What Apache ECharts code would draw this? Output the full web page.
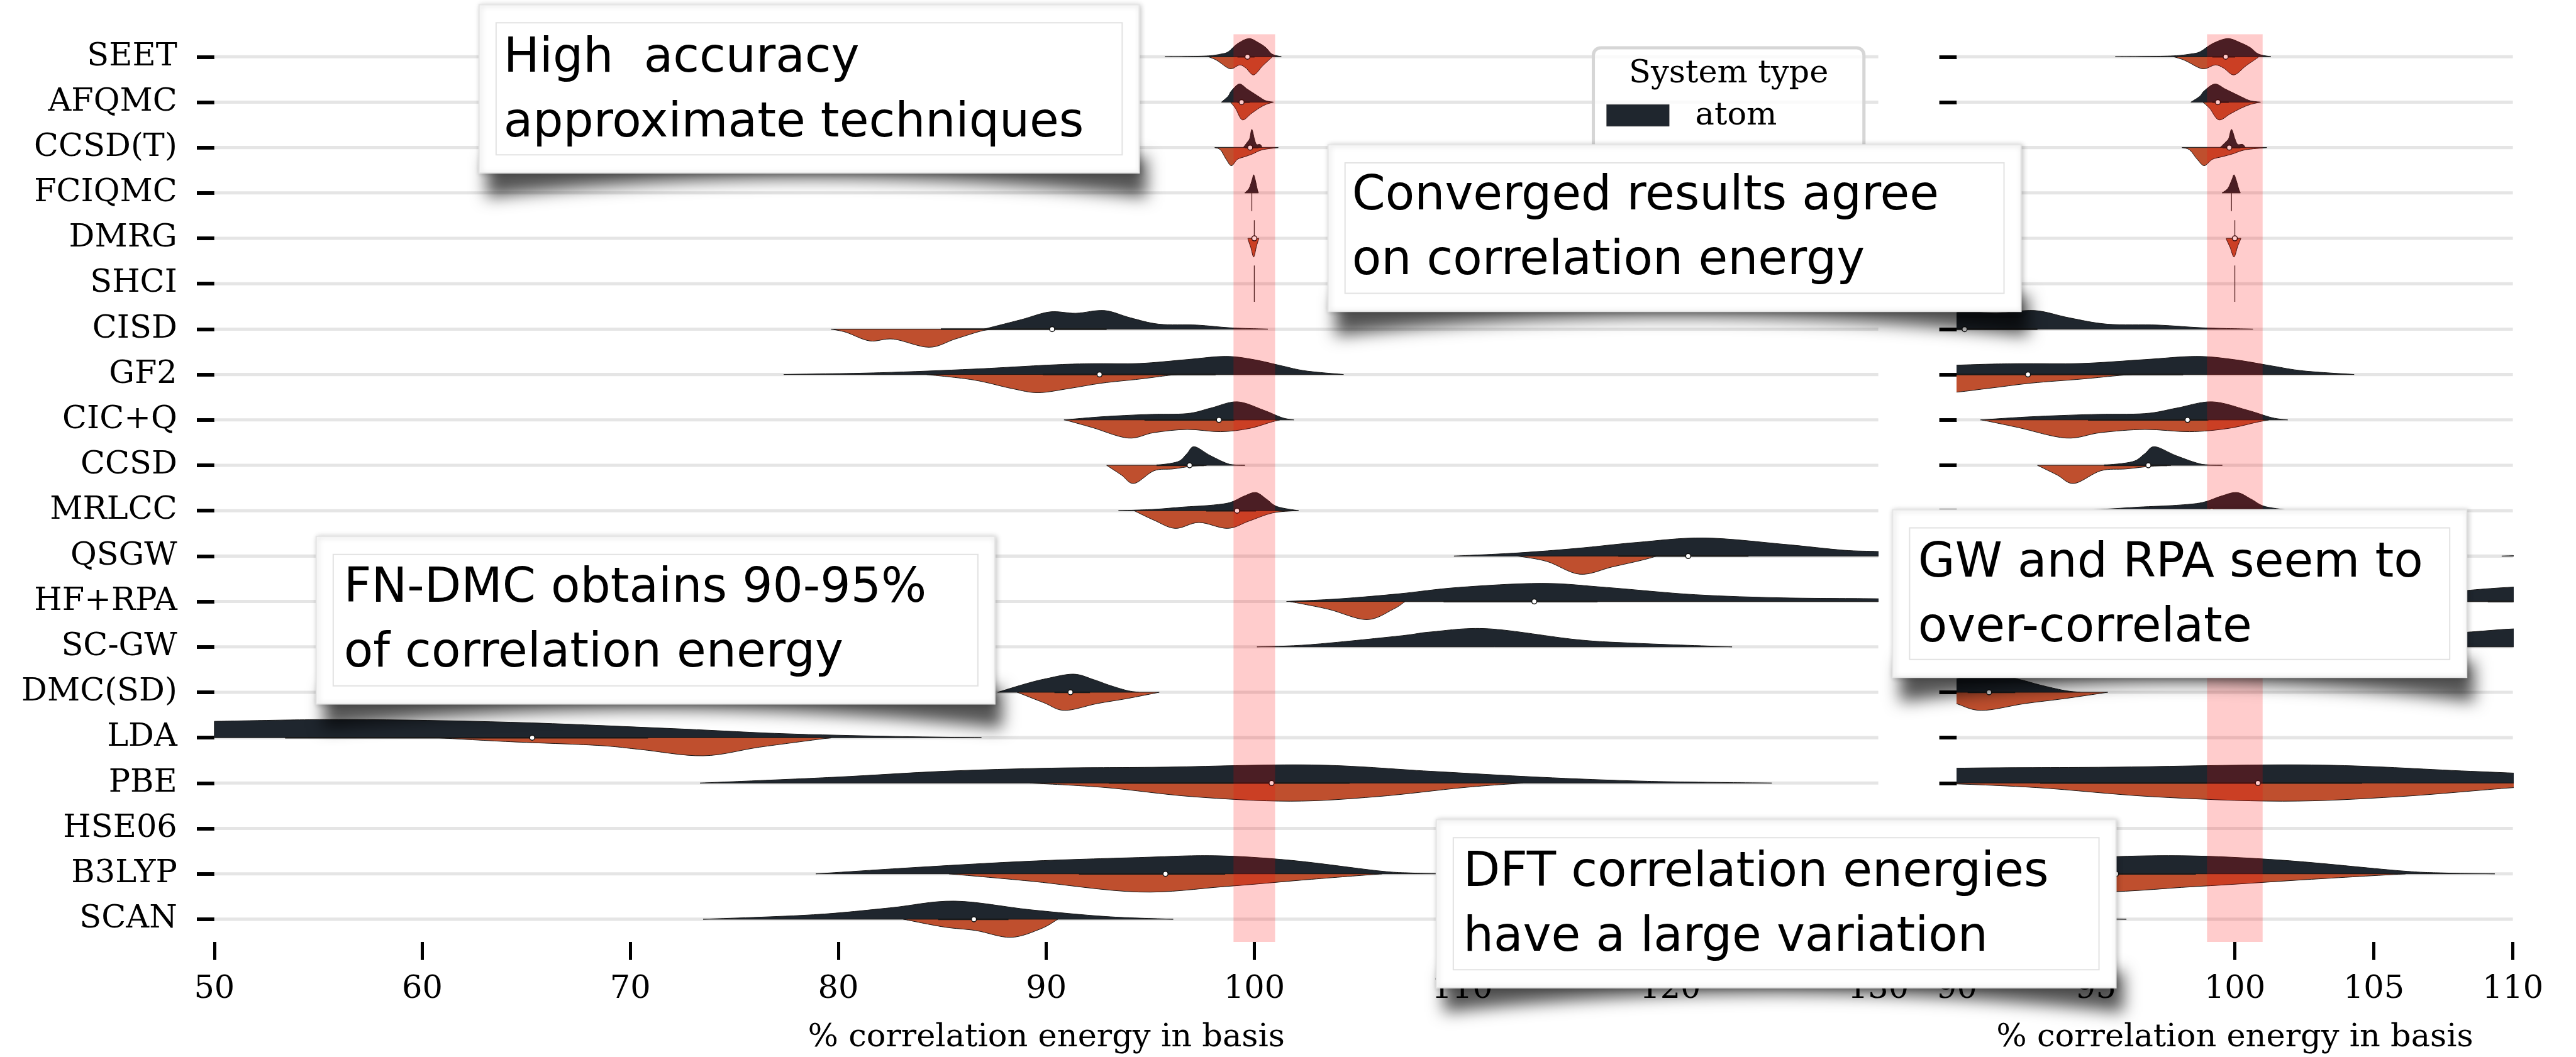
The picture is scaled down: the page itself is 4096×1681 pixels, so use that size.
<!DOCTYPE html>
<html><head><meta charset="utf-8">
<script src="https://cdn.jsdelivr.net/npm/echarts@6/dist/echarts.min.js"></script>
<style>html,body{margin:0;padding:0;background:#fff;overflow:hidden}#c{width:4096px;height:1681px}</style>
</head><body><div id="c"></div>
<script>
// ---------------- data ----------------
const methods = ['SEET','AFQMC','CCSD(T)','FCIQMC','DMRG','SHCI','CISD','GF2','CIC+Q','CCSD','MRLCC','QSGW','HF+RPA','SC-GW','DMC(SD)','LDA','PBE','HSE06','B3LYP','SCAN'];

// half-violin outlines: [% correlation energy, half-width as fraction of row spacing]
const atomDensity = [
  [[95.7,0],[96.8,0.006],[97.8,0.02],[98.4,0.06],[98.75,0.11],[99.2,0.29],[99.74,0.40],[100.2,0.31],[100.56,0.2],[100.85,0.06],[101.3,0]],
  [[98.42,0],[98.74,0.13],[98.9,0.25],[99.28,0.40],[99.65,0.29],[99.92,0.21],[100.29,0.10],[100.56,0.03],[100.92,0]],
  [[99.47,0],[99.65,0.11],[99.78,0.2],[99.88,0.40],[100.0,0.2],[100.1,0.07],[100.28,0.07],[100.38,0]],
  [[99.54,0],[99.75,0.1],[99.9,0.3],[99.97,0.40],[100.05,0.28],[100.15,0.07],[100.2,0]],
  [[100.0,0.40]],
  [[100.0,0.40]],
  [[87.0,0],[88.8,0.21],[90.17,0.38],[91.42,0.35],[92.79,0.41],[94.04,0.25],[95.41,0.11],[97.23,0.09],[98.83,0.03],[100.65,0]],
  [[77.37,0],[81.97,0.04],[86.5,0.12],[90.17,0.21],[92.2,0.24],[94.5,0.245],[96.77,0.33],[98.6,0.40],[99.96,0.33],[101.33,0.19],[102.47,0.08],[104.29,0]],
  [[90.85,0],[92.67,0.07],[94.84,0.12],[96.77,0.14],[97.9,0.26],[99.17,0.40],[100.42,0.22],[101.33,0.05],[101.9,0]],
  [[95.3,0],[96.32,0.08],[96.75,0.25],[97.12,0.41],[97.9,0.21],[98.83,0.02],[99.55,0]],
  [[93.47,0],[95.18,0.03],[96.55,0.08],[97.9,0.12],[98.83,0.18],[99.5,0.32],[100.08,0.40],[100.6,0.25],[101.1,0.09],[102.13,0]],
  [[109.6,0],[112.66,0.07],[115.5,0.17],[118.36,0.30],[121.63,0.40],[125.47,0.26],[128.32,0.13],[130.03,0.10],[132,0.04],[133.5,0]],
  [[101.55,0],[104.12,0.06],[106.96,0.17],[109.81,0.31],[113.8,0.40],[116.93,0.31],[121.2,0.15],[125.47,0.08],[130.03,0.06],[133,0.02],[135,0]],
  [[100.13,0],[102.7,0.05],[106.96,0.24],[108.5,0.33],[111.24,0.40],[115.5,0.16],[118.36,0.08],[122.97,0]],
  [[87.66,0],[89.03,0.19],[90.0,0.30],[91.3,0.40],[92.27,0.28],[93.0,0.16],[93.87,0.04],[94.44,0]],
  [[50,0.36],[56.43,0.40],[64.24,0.34],[72.05,0.20],[77.25,0.09],[82.46,0.03],[86.88,0]],
  [[73.35,0],[79.85,0.13],[85.06,0.26],[90.27,0.33],[95.47,0.35],[102.76,0.40],[108.48,0.26],[113.69,0.13],[118.9,0.04],[124.88,0]],
  [],
  [[78.92,0],[84.02,0.15],[89.22,0.28],[94.43,0.36],[98.07,0.40],[101.72,0.30],[105.9,0.07],[107.5,0.02],[109.35,0]],
  [[73.5,0],[78.81,0.10],[82.46,0.25],[85.58,0.40],[89.22,0.21],[92.87,0.06],[96.1,0]]
];
const moleculeDensity = [
  [[97.8,0],[98.2,0.08],[98.7,0.24],[98.95,0.26],[99.3,0.18],[99.6,0.25],[99.97,0.40],[100.4,0.2],[100.8,0.03],[100.85,0]],
  [[98.85,0],[99.1,0.14],[99.42,0.39],[99.83,0.26],[100.2,0.14],[100.56,0.05],[100.92,0]],
  [[98.1,0],[98.37,0.05],[98.65,0.26],[98.9,0.40],[99.19,0.26],[99.56,0.2],[99.92,0.14],[100.38,0.05],[101.15,0]],
  [[99.88,0.40]],
  [[99.69,0],[99.71,0.04],[99.83,0.2],[99.97,0.41],[100.1,0.18],[100.2,0.03],[100.22,0]],
  [[100.0,0.40]],
  [[79.65,0],[80.37,0.07],[81.51,0.26],[82.65,0.22],[84.36,0.40],[85.61,0.22],[86.98,0.03],[87.7,0]],
  [[84.25,0],[86.5,0.12],[88.35,0.31],[89.6,0.40],[91.08,0.31],[92.67,0.19],[94.5,0.10],[95.86,0.02],[96.3,0]],
  [[90.9,0],[92.22,0.17],[93.93,0.40],[95.18,0.28],[96.77,0.21],[98.37,0.26],[99.74,0.19],[100.8,0.05],[101.22,0]],
  [[92.9,0],[93.6,0.21],[94.22,0.40],[95.18,0.12],[96.09,0.08],[97.0,0.02],[97.7,0]],
  [[94.22,0],[95.18,0.21],[96.2,0.39],[97.34,0.26],[98.71,0.39],[99.74,0.23],[100.87,0.05],[102.0,0]],
  [[112.66,0],[114.08,0.12],[115.65,0.40],[117.2,0.24],[118.64,0.09],[119.35,0]],
  [[101.7,0],[103.55,0.17],[105.4,0.40],[106.68,0.17],[107.25,0]],
  [],
  [[88.6,0],[89.88,0.23],[90.88,0.40],[92.44,0.25],[93.87,0.14],[95.43,0]],
  [[60.6,0],[64.24,0.09],[68.4,0.17],[70.48,0.26],[73.5,0.40],[76.21,0.21],[79.33,0.02],[79.6,0]],
  [[89.22,0],[92.87,0.10],[97.03,0.30],[101.72,0.40],[105.88,0.30],[110.05,0.10],[112.91,0]],
  [],
  [[85.32,0],[89.22,0.16],[94.43,0.40],[98.59,0.28],[102.76,0.12],[106.14,0]],
  [[83.13,0],[85.06,0.17],[86.62,0.25],[88.29,0.40],[89.74,0.21],[90.55,0]]
];
// inner box: [q1, median, q3]
const boxQuartiles = [
  [99.19,99.67,100.01],[99.19,99.39,99.78],[99.56,99.8,100.2],null,[99.97,100.0,100.03],null,
  [84.93,90.28,92.9],[89.83,92.56,98.14],[94.72,98.3,99.05],[95.3,96.89,97.57],[97.69,99.17,100.08],
  [117.5,120.86,123.76],[109.1,113.46,116.5],null,[90.39,91.16,92.1],[53.4,65.28,70.85],
  [93.0,100.83,104.58],null,[91.57,95.73,98.6],[84.8,86.52,88.18]
];
const leftAxis = [50, 130, 10];   // min, max, interval
const rightAxis = [90, 110, 5];
const referenceBand = [99, 101];
const xAxisTitle = '% correlation energy in basis';
const legendTitle = 'System type';
const legendItems = ['atom', 'molecule'];
const noteTexts = [
  ['High  accuracy', 'approximate techniques'],
  ['Converged results agree', 'on correlation energy'],
  ['FN-DMC obtains 90-95%', 'of correlation energy'],
  ['GW and RPA seem to', 'over-correlate'],
  ['DFT correlation energies', 'have a large variation']
];

// ---------------- layout / style ----------------
const K = 4096 / 4855;
const P = v => v * K;
const ATOM = '#1f262e', MOL = '#bf4f2e', EDGE = '#161616';
const SERIF = '"DejaVu Serif", serif';
const SANS = '"DejaVu Sans", sans-serif';
const AX_FS = 51;
const BASE_OFF = 0.29;   // canvas "middle" to alphabetic baseline, in em
const gridTop = P(64.2), gridH = P(1713.6);

function halfShape(pts, sign, rowIdx, api, step, fill) {
  if (!pts || !pts.length) return null;
  const yc = api.coord([100, rowIdx])[1];
  const Q = pts.map(p => [api.coord([p[0], rowIdx])[0], yc - sign * p[1] * step]);
  if (Q.length === 1) {
    return {type: 'line', shape: {x1: Q[0][0], y1: yc, x2: Q[0][0], y2: Q[0][1]},
      style: {stroke: '#2a2a2a', lineWidth: 1.3}};
  }
  const lim = y => sign > 0 ? Math.min(y, yc) : Math.max(y, yc);
  let d = 'M' + Q[0][0] + ',' + yc + 'L' + Q[0][0] + ',' + Q[0][1];
  for (let i = 0; i < Q.length - 1; i++) {
    const p0 = Q[i - 1] || Q[i], p1 = Q[i], p2 = Q[i + 1], p3 = Q[i + 2] || Q[i + 1];
    const c1x = p1[0] + (p2[0] - p0[0]) / 6, c1y = lim(p1[1] + (p2[1] - p0[1]) / 6);
    const c2x = p2[0] - (p3[0] - p1[0]) / 6, c2y = lim(p2[1] - (p3[1] - p1[1]) / 6);
    d += 'C' + c1x + ',' + c1y + ',' + c2x + ',' + c2y + ',' + p2[0] + ',' + p2[1];
  }
  d += 'L' + Q[Q.length - 1][0] + ',' + yc + 'Z';
  return {type: 'path', shape: {pathData: d}, style: {fill: fill, stroke: EDGE, lineWidth: 1}};
}

function violinItem(params, api) {
  const i = api.value(1);
  const step = api.size([0, 1])[1];
  const yc = api.coord([100, i])[1];
  const children = [];
  const a = halfShape(atomDensity[i], 1, i, api, step, ATOM);
  const m = halfShape(moleculeDensity[i], -1, i, api, step, MOL);
  if (a) children.push(a);
  if (m) children.push(m);
  const b = boxQuartiles[i];
  if (b) {
    const x1 = api.coord([b[0], i])[0], x2 = api.coord([b[2], i])[0], xm = api.coord([b[1], i])[0];
    children.push({type: 'line', shape: {x1: x1, y1: yc, x2: x2, y2: yc}, style: {stroke: '#1a1a1a', lineWidth: 2.5}});
    children.push({type: 'circle', shape: {cx: xm, cy: yc, r: 4}, style: {fill: '#fff', stroke: '#111', lineWidth: 1.5}});
  }
  return {type: 'group', children: children};
}

function gridLineItem(params, api) {
  const cs = params.coordSys;
  const y = api.coord([100, api.value(1)])[1];
  const lw = P(6);
  return {type: 'rect', shape: {x: cs.x, y: y - lw / 2, width: cs.width, height: lw}, style: {fill: '#e5e5e5'}};
}

function bandItem(params, api) {
  const cs = params.coordSys;
  const x1 = api.coord([api.value(0), 0])[0], x2 = api.coord([api.value(2), 0])[0];
  return {type: 'rect', shape: {x: x1, y: cs.y, width: x2 - x1, height: cs.height}, style: {fill: 'rgba(255,0,0,0.2)'}};
}

const rowData = methods.map((m, i) => [100, i]);

function xAx(gi, rng) {
  return {
    gridIndex: gi, type: 'value', min: rng[0], max: rng[1], interval: rng[2],
    axisLine: {show: false},
    axisTick: {show: true, length: P(34), lineStyle: {color: '#000', width: 5}},
    splitLine: {show: false},
    axisLabel: {margin: 50, fontFamily: SERIF, fontSize: AX_FS, lineHeight: AX_FS, color: '#000'},
    name: xAxisTitle, nameLocation: 'middle', nameGap: 127,
    nameTextStyle: {fontFamily: SERIF, fontSize: AX_FS, lineHeight: AX_FS, color: '#000'}
  };
}
function yAx(gi, showLabels) {
  return {
    gridIndex: gi, type: 'category', data: methods, inverse: true,
    axisLine: {show: false},
    axisTick: {show: true, alignWithLabel: true, length: P(33), lineStyle: {color: '#000', width: P(7)}},
    axisLabel: {show: showLabels, margin: P(70), fontFamily: SERIF, fontSize: AX_FS, color: '#000'},
    splitLine: {show: false}
  };
}

const series = [];
[0, 1].forEach(g => {
  series.push({type: 'custom', xAxisIndex: g, yAxisIndex: g, z: 1, silent: true, clip: true, data: rowData, renderItem: gridLineItem});
  series.push({type: 'custom', xAxisIndex: g, yAxisIndex: g, z: 2, silent: true, clip: true, data: rowData, renderItem: violinItem});
  series.push({type: 'custom', xAxisIndex: g, yAxisIndex: g, z: 3, silent: true, clip: true,
    data: [[referenceBand[0], 0, referenceBand[1]]], encode: {x: 0, y: 1}, renderItem: bandItem});
});

// ---------------- legend & notes (graphic) ----------------
const graphics = [];
graphics.push({type: 'rect', z: 50, shape: {x: P(3003), y: P(90), width: P(510), height: P(380), r: P(14)},
  style: {fill: 'rgba(255,255,255,0.8)', stroke: '#d6d6d6', lineWidth: P(6)}});
graphics.push({type: 'text', z: 51, style: {text: legendTitle, x: P(3258), y: P(157) - BASE_OFF * AX_FS, font: AX_FS + 'px ' + SERIF,
  fill: '#000', align: 'center', verticalAlign: 'middle'}});
[ATOM, MOL].forEach((c, k) => {
  const y0 = 197 + k * 130;
  graphics.push({type: 'rect', z: 51, shape: {x: P(3028), y: P(y0), width: P(118), height: P(41)}, style: {fill: c, stroke: '#333', lineWidth: 0.5}});
  graphics.push({type: 'text', z: 51, style: {text: legendItems[k], x: P(3195), y: P(y0 + 40) - BASE_OFF * AX_FS, font: AX_FS + 'px ' + SERIF,
    fill: '#000', align: 'left', verticalAlign: 'middle'}});
});

const noteLayout = [
  {box: [903, 9, 2147, 326], tx: 949, b1: 138},
  {box: [2503, 273, 3809, 587], tx: 2548, b1: 397},
  {box: [596, 1011, 1875, 1327], tx: 648, b1: 1137},
  {box: [3567, 961, 4649, 1277], tx: 3615, b1: 1090},
  {box: [2707, 1545, 3988, 1862], tx: 2758, b1: 1673}
];
const NOTE_FS = 76;
noteLayout.forEach((n, k) => {
  const [L, T, R, B] = n.box;
  const z = 60 + k * 3;
  // curled-paper shadow (shape drawn off-screen, only its blurred shadow is shifted into place)
  const pts = [];
  const mid = (L + R) / 2;
  pts.push([P(L + 14), P(B - 30)], [P(R + 14), P(B - 30)]);
  for (let t = 0; t <= 1.0001; t += 0.05) {
    const x = (1 - t) * (1 - t) * (R + 14) + 2 * t * (1 - t) * mid + t * t * (L + 14);
    const y = (1 - t) * (1 - t) * (B + 46) + 2 * t * (1 - t) * (B - 26) + t * t * (B + 46);
    pts.push([P(x), P(y)]);
  }
  graphics.push({type: 'polygon', z: z, x: -10000, shape: {points: pts},
    style: {fill: '#000', shadowBlur: P(30), shadowColor: 'rgba(0,0,0,0.68)', shadowOffsetX: 10000, shadowOffsetY: 0}});
  graphics.push({type: 'rect', z: z + 1, shape: {x: P(L), y: P(T), width: P(R - L), height: P(B - T)},
    style: {fill: '#fff', stroke: '#e6e6e6', lineWidth: 2, shadowBlur: 8, shadowColor: 'rgba(0,0,0,0.22)', shadowOffsetX: 2, shadowOffsetY: 1}});
  graphics.push({type: 'rect', z: z + 2, shape: {x: P(L + 32), y: P(T + 34), width: P(R - L - 64), height: P(B - T - 68)},
    style: {fill: 'none', stroke: '#e2e2e2', lineWidth: 2}});
  noteTexts[k].forEach((line, j) => {
    graphics.push({type: 'text', z: z + 2, style: {text: line, x: P(n.tx), y: P(n.b1 + j * 122) - BASE_OFF * NOTE_FS,
      font: NOTE_FS + 'px ' + SANS, fill: '#000', align: 'left', verticalAlign: 'middle'}});
  });
});

const chart = echarts.init(document.getElementById('c'), null, {renderer: 'canvas', width: 4096, height: 1681});
chart.setOption({
  animation: false,
  backgroundColor: '#ffffff',
  grid: [
    {left: P(404), top: gridTop, width: P(3136), height: gridH, containLabel: false},
    {left: P(3688), top: gridTop, width: P(1048), height: gridH, containLabel: false}
  ],
  xAxis: [xAx(0, leftAxis), xAx(1, rightAxis)],
  yAxis: [yAx(0, true), yAx(1, false)],
  series: series,
  graphic: {elements: graphics}
});
</script></body></html>
